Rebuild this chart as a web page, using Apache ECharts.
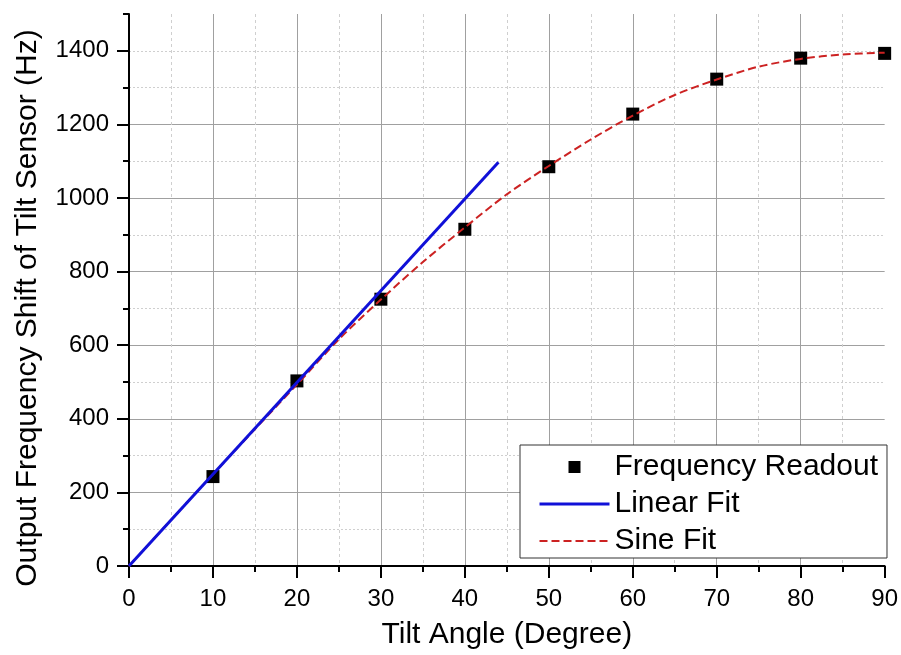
<!DOCTYPE html>
<html><head><meta charset="utf-8">
<script src="https://cdn.jsdelivr.net/npm/echarts@6/dist/echarts.min.js"></script>
<style>html,body{margin:0;padding:0;background:#fff}#c{width:901px;height:655px}</style>
</head><body><div id="c"></div>
<script>
// ---- data ----
const angles = [10, 20, 30, 40, 50, 60, 70, 80, 90];
const readout = [243, 503, 725, 915, 1085, 1228, 1323, 1380, 1393];
const linearX = [0, 44];
const linearY = [0, 1097];
const sineX = [0, 5, 10, 15, 20, 25, 30, 35, 40, 45, 50, 55, 60, 65, 70, 75, 80, 85, 90];
const sineY = [0, 125, 249, 372, 493, 616, 724, 826, 920, 1010, 1087, 1159, 1224, 1280, 1322, 1357, 1378, 1390, 1395];
const yTickLabels = [0, 200, 400, 600, 800, 1000, 1200, 1400];
const seriesNames = ['Frequency Readout', 'Linear Fit', 'Sine Fit'];
const xTitle = 'Tilt Angle (Degree)';
const yTitle = 'Output Frequency Shift of Tilt Sensor (Hz)';

const FONT = '"Liberation Sans", Arial, sans-serif';
const zip = (a, b) => a.map((v, i) => [v, b[i]]);
const plain = v => String(v);

const chart = echarts.init(document.getElementById('c'), null, {renderer: 'canvas'});
chart.setOption({
  animation: false,
  backgroundColor: '#fff',
  grid: {left: 129, right: 16, top: 14, bottom: 86, containLabel: false},
  xAxis: {
    type: 'value', min: 0, max: 90, interval: 10, z: 1,
    name: xTitle, nameLocation: 'middle', nameGap: 54,
    nameTextStyle: {fontFamily: FONT, fontSize: 30, color: '#000'},
    axisLine: {show: true, onZero: false, lineStyle: {color: '#000', width: 2}},
    axisTick: {show: true, inside: false, length: 12, lineStyle: {color: '#000', width: 2}},
    minorTick: {show: true, splitNumber: 2, length: 6, lineStyle: {color: '#000', width: 2}},
    axisLabel: {fontFamily: FONT, fontSize: 24, color: '#000', margin: 21, formatter: plain},
    splitLine: {show: true, showMinLine: false, showMaxLine: false, lineStyle: {color: '#a0a0a0', width: 1}},
    minorSplitLine: {show: true, lineStyle: {color: '#cfcfcf', width: 1, type: [3, 3]}}
  },
  yAxis: [{
    type: 'value', min: 0, max: 1500, interval: 200, position: 'left', z: 1,
    name: yTitle, nameLocation: 'middle', nameGap: 86,
    nameTextStyle: {fontFamily: FONT, fontSize: 30, color: '#000', padding: [0, 36, 0, 0]},
    axisLine: {show: true, onZero: false, lineStyle: {color: '#000', width: 2}},
    axisTick: {show: true, inside: false, length: 12, customValues: yTickLabels, lineStyle: {color: '#000', width: 2}},
    axisLabel: {fontFamily: FONT, fontSize: 24, color: '#000', margin: 20, customValues: yTickLabels, formatter: plain},
    splitLine: {show: true, showMinLine: false, showMaxLine: false, lineStyle: {color: '#a0a0a0', width: 1}}
  }, {
    type: 'value', min: 0, max: 1500, interval: 100, position: 'left', offset: 0, z: 0,
    axisLine: {show: false},
    axisTick: {show: true, inside: false, length: 6, lineStyle: {color: '#000', width: 2}},
    axisLabel: {show: false},
    splitLine: {show: true, showMinLine: false, showMaxLine: false, lineStyle: {color: '#cfcfcf', width: 1, type: [2, 2]}}
  }],
  legend: {
    orient: 'vertical', left: 520, top: 445,
    padding: [7, 9, 2, 18],
    backgroundColor: '#fff', borderColor: '#333', borderWidth: 1,
    itemWidth: 70, itemHeight: 14, itemGap: 7,
    textStyle: {fontFamily: FONT, fontSize: 30, color: '#000', lineHeight: 30},
    data: [
      {name: seriesNames[0], icon: 'path://M0,0M70,14M29,1h12v12h-12z', itemStyle: {color: '#000', opacity: 1}},
      {name: seriesNames[1], itemStyle: {opacity: 0}, lineStyle: {width: 3}},
      {name: seriesNames[2], itemStyle: {opacity: 0}}
    ]
  },
  series: [{
    name: seriesNames[0], type: 'scatter', yAxisIndex: 0,
    symbol: 'rect', symbolSize: 13,
    itemStyle: {color: '#000', opacity: 1},
    data: zip(angles, readout)
  }, {
    name: seriesNames[2], type: 'line', yAxisIndex: 0,
    symbol: 'none', showSymbol: false, smooth: 0.3,
    lineStyle: {color: '#cc2222', width: 2, type: [8, 4]},
    itemStyle: {color: '#cc2222'},
    data: zip(sineX, sineY)
  }, {
    name: seriesNames[1], type: 'line', yAxisIndex: 0,
    symbol: 'none', showSymbol: false,
    lineStyle: {color: '#1010d8', width: 3},
    itemStyle: {color: '#1010d8'},
    data: zip(linearX, linearY)
  }]
});
</script>
</body></html>
